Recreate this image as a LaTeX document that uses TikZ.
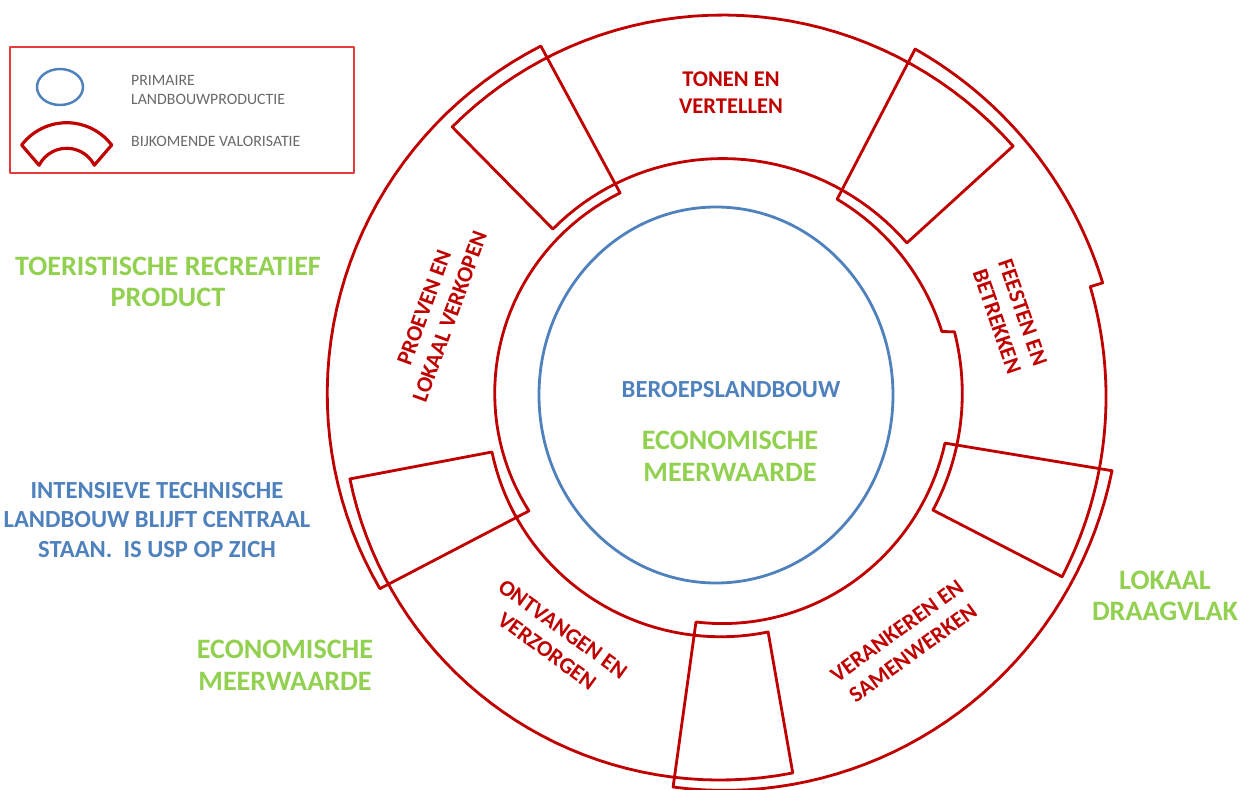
\documentclass[tikz,border=0pt]{standalone}
\usepackage{fontspec}
\setmainfont{Carlito}
\definecolor{ringred}{RGB}{192,0,0}
\definecolor{agrigreen}{RGB}{146,208,80}
\definecolor{agriblue}{RGB}{79,129,189}
\definecolor{legendgray}{RGB}{105,105,105}
\definecolor{legendred}{RGB}{228,60,60}
\begin{document}
\begin{tikzpicture}[x=0.02cm,y=0.02cm,line join=round,line cap=round,variable=\t,samples=40,domain=0:1,
	ringline/.style={draw=ringred,line width=1.6pt},
	ringlabel/.style={text=ringred,align=center,font=\fontsize{12.8}{15.5}\selectfont\bfseries},
	greenlabel/.style={text=agrigreen,align=center,font=\fontsize{16}{18}\selectfont\bfseries},
	bluelabel/.style={text=agriblue,align=center,font=\fontsize{14}{17}\selectfont\bfseries},
	legendtext/.style={text=legendgray,anchor=west,font=\fontsize{9}{10}\selectfont}]
	\useasboundingbox (-715,-389) rectangle (537,400);
	% legend
	\draw[legendred,line width=1.1pt] (-705,227) rectangle (-361,353);
	\draw[agriblue,line width=1.4pt] (-655,313) ellipse [x radius=23,y radius=18];
	\draw[ringred,line width=1.8pt] ([shift={(-648.3,220.7)}]142.7:56.6) arc[start angle=142.7,end angle=37.3,radius=56.6]
		-- ([shift={(-648.3,220.7)}]27:31) arc[start angle=27,end angle=153,radius=31] -- cycle;
	\node[legendtext] (primaire) at (-590,320) {PRIMAIRE};
	\node[legendtext] (landbouwprod) at (-590,301) {LANDBOUWPRODUCTIE};
	\node[legendtext] (bijkomende) at (-590,259) {BIJKOMENDE VALORISATIE};
	% ring: five parts that overlap at their ends
	% tonen en vertellen
	\draw[ringline] plot ({133.9-93.5*\t}:{379+12.6*\t})
		-- plot ({39.3+94.2*\t}:{248-12.4*\t}) -- cycle;
	% feesten en betrekken
	\draw[ringline] plot ({60.3-43.5*\t}:{404+1*\t})
		-- plot ({16.8-43.8*\t}:{392-2.5*\t})
		-- plot ({-26.8+42.7*\t}:{244.2+4.8*\t})
		-- plot ({16.8+41.9*\t}:{237-2*\t}) -- cycle;
	% verankeren en samenwerken
	\draw[ringline] plot ({-10.1-86.1*\t}:{403.3-14*\t})
		-- plot ({-94.9+84.3*\t}:{222.8+11.2*\t}) -- cycle;
	% ontvangen en verzorgen
	\draw[ringline] plot ({192.2+89.6*\t}:{373.5+7.5*\t})
		-- plot ({282.9-89.8*\t}:{238-9*\t}) -- cycle;
	% proeven en lokaal verkopen
	\draw[ringline] plot ({116.2+93.2*\t}:{394.5-9.9*\t})
		-- plot ({210.8-96.2*\t}:{216.6+11.2*\t}) -- cycle;
	% primary production
	\draw[agriblue,line width=1.6pt] (1,5) ellipse [x radius=177,y radius=188];
	\node[ringlabel] (tonen) at (16,307) {TONEN EN\\VERTELLEN};
	\node[ringlabel,rotate=-71] (feesten) at (295,83) {FEESTEN EN\\BETREKKEN};
	\node[ringlabel,rotate=36] (verankeren) at (190,-242) {VERANKEREN EN\\SAMENWERKEN};
	\node[ringlabel,rotate=-36] (ontvangen) at (-160,-240) {ONTVANGEN EN\\VERZORGEN};
	\node[ringlabel,rotate=70] (proeven) at (-278,88) {PROEVEN EN\\LOKAAL VERKOPEN};
	\node[bluelabel] (beroeps) at (16,10) {BEROEPSLANDBOUW};
	\node[greenlabel] (meerwaarde) at (15,-56) {ECONOMISCHE\\MEERWAARDE};
	% side notes
	\node[greenlabel] (toeristisch) at (-547,118) {TOERISTISCHE RECREATIEF\\PRODUCT};
	\node[bluelabel] (intensief) at (-558,-120) {INTENSIEVE TECHNISCHE\\LANDBOUW BLIJFT CENTRAAL\\STAAN.\ \ IS USP OP ZICH};
	\node[greenlabel] (meerwaardelinks) at (-430,-265) {ECONOMISCHE\\MEERWAARDE};
	\node[greenlabel] (draagvlak) at (450,-196) {LOKAAL\\DRAAGVLAK};
\end{tikzpicture}
\end{document}
